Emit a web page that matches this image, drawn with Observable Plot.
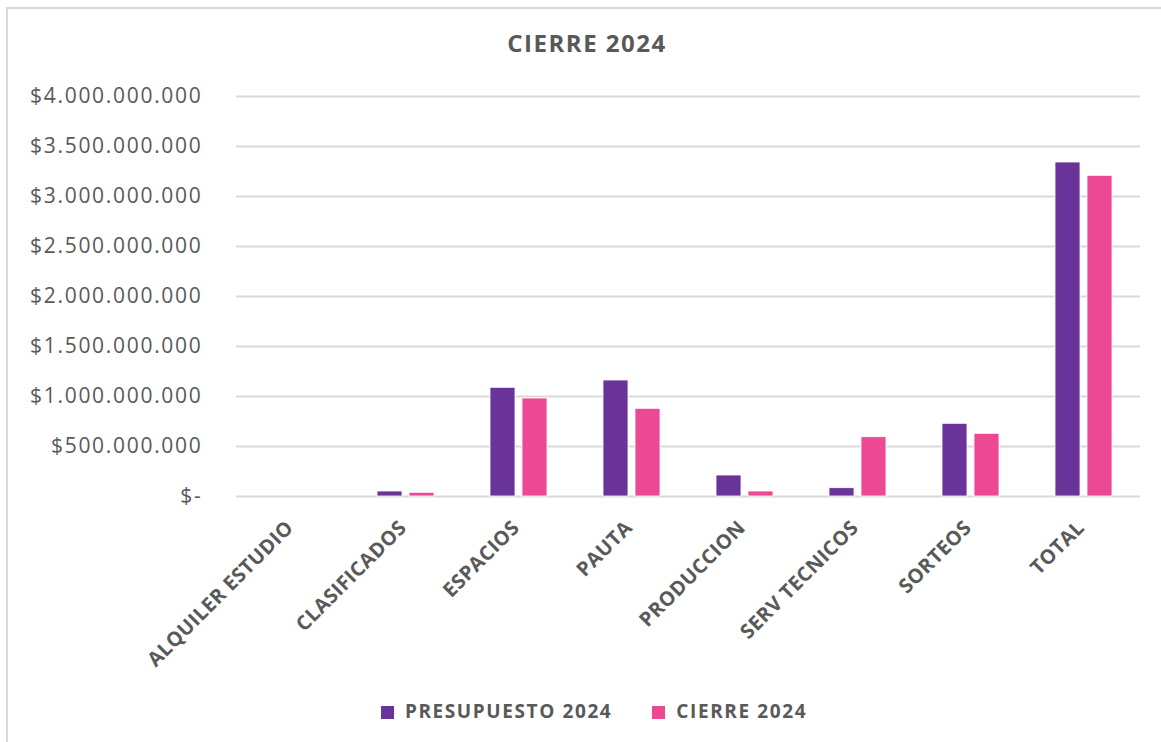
<!DOCTYPE html>
<html><head><meta charset="utf-8">
<script src="https://cdn.jsdelivr.net/npm/d3@7"></script>
<script src="https://cdn.jsdelivr.net/npm/@observablehq/plot@0.6"></script>
<style>
body{margin:0;background:#fff;overflow:hidden;width:1161px;height:742px;position:relative;font-family:"Open Sans",sans-serif;color:#595959}
#frame{position:absolute;left:6px;top:7px;width:1200px;height:800px;border:2px solid #d9d9d9;}
#title{position:absolute;left:0;width:1174px;top:31px;text-align:center;font-weight:700;font-size:24px;letter-spacing:1.5px;line-height:24px}
#chart{position:absolute;left:0;top:0}
#chart svg text{fill:#595959}
#chart g[aria-label="y-axis tick label"] text{letter-spacing:1.7px}
#chart g[aria-label="fx-axis tick label"] text{letter-spacing:0.4px}
#legend{position:absolute;top:700px;left:0;width:1188px;text-align:center;font-weight:700;font-size:19px;letter-spacing:1.6px;line-height:22px;white-space:nowrap}
#legend span.item{display:inline-block;margin:0 20px}
#legend span.sw{display:inline-block;width:13px;height:13px;margin-right:11px;vertical-align:-1px}
</style></head>
<body>
<div id="frame"></div>
<div id="title">CIERRE 2024</div>
<div id="chart"></div>
<div id="legend"></div>
<script>
const categories = ["ALQUILER ESTUDIO","CLASIFICADOS","ESPACIOS","PAUTA","PRODUCCION","SERV TECNICOS","SORTEOS","TOTAL"];
const series = ["PRESUPUESTO 2024","CIERRE 2024"];
const presupuesto = [0, 50e6, 1087e6, 1160e6, 210e6, 83e6, 727e6, 3340e6];
const cierre = [0, 37e6, 980e6, 877e6, 50e6, 593e6, 627e6, 3207e6];
const yTicks = [0, 5e8, 1e9, 1.5e9, 2e9, 2.5e9, 3e9, 3.5e9, 4e9];
const colors = ["#6a3399", "#ec4893"];

const data = categories.flatMap((c, i) => [
  {cat: c, serie: series[0], value: presupuesto[i]},
  {cat: c, serie: series[1], value: cierre[i]}
]);
const fmt = d => d === 0 ? "$-" : "$" + d3.format(",")(d).replace(/,/g, ".");

const chart = Plot.plot({
  width: 1161, height: 686,
  marginTop: 96, marginBottom: 190, marginLeft: 232, marginRight: 18,
  style: {fontFamily: "'Open Sans', sans-serif", color: "#595959", background: "transparent"},
  fx: {domain: categories, padding: 0, label: null},
  x: {domain: series, paddingInner: 0.21, paddingOuter: 0.825, axis: null},
  y: {domain: [0, 4e9], label: null},
  color: {domain: series, range: colors},
  marks: [
    Plot.gridY(yTicks, {stroke: "#d9d9d9", strokeWidth: 2, strokeOpacity: 1}),
    Plot.barY(data, {fx: "cat", x: "serie", y: "value", fill: "serie", stroke: "white", strokeWidth: 0.8}),
    Plot.axisY(yTicks, {tickSize: 0, tickPadding: 34, tickFormat: fmt, fontSize: 21, label: null}),
    Plot.axisFx({anchor: "bottom", tickRotate: -45, tickSize: 0, tickPadding: 28, dx: -3, fontSize: 20, fontWeight: "bold", label: null})
  ]
});
document.getElementById("chart").appendChild(chart);

const legend = document.getElementById("legend");
series.forEach((s, i) => {
  const item = document.createElement("span");
  item.className = "item";
  const sw = document.createElement("span");
  sw.className = "sw";
  sw.style.background = colors[i];
  item.appendChild(sw);
  item.appendChild(document.createTextNode(s));
  legend.appendChild(item);
});
</script>
</body></html>
